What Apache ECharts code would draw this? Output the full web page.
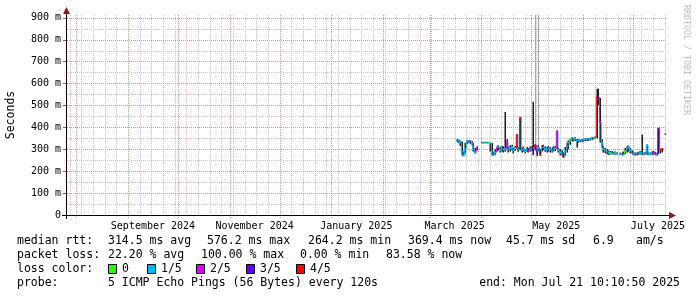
<!DOCTYPE html>
<html><head><meta charset="utf-8">
<script src="https://cdn.jsdelivr.net/npm/echarts@6/dist/echarts.min.js"></script>
<style>html,body{margin:0;padding:0;background:#fff}#c{width:697px;height:297px}</style>
</head><body><div id="c"></div>
<script>
// ---------- data ----------
const rangeStart = Date.UTC(2024, 6, 26, 10, 10, 50);
const rangeEnd = Date.UTC(2025, 6, 21, 10, 10, 50);
const firstSample = Date.UTC(2025, 2, 17);   // one sample per day from here
const monthStarts = ['2024-08-01','2024-09-01','2024-10-01','2024-11-01','2024-12-01','2025-01-01','2025-02-01','2025-03-01','2025-04-01','2025-05-01','2025-06-01','2025-07-01'];
const monthLabelDates = ['2024-09-16','2024-11-16','2025-01-16','2025-03-16','2025-05-16','2025-07-16'];
const firstSunday = '2024-07-28';
const yMax = 912;
const yMajorTicks = [100,200,300,400,500,600,700,800,900];
const yMinorTicks = [50,150,250,350,450,550,650,750,850];
const lossLabels = ['0','1/5','2/5','3/5','4/5'];
const lossColors = ['#26ff00','#00b8ff','#dd00ff','#5e00ff','#ff0000'];

// median rtt (ms), smoke low/high (ms), loss level (x/5), pale smoke top (ms)
const medianMs = [342,340,335,290,272,300,335,338,336,330,300,285,308,null,null,330,330,330,330,330,328,290,275,285,305,310,295,305,298,300,335,300,305,310,295,305,365,300,443,295,302,290,300,292,300,305,305,318,285,305,275,305,310,300,295,305,300,292,300,305,382,295,285,280,265,290,310,330,340,350,345,348,340,338,340,340,342,345,345,345,348,350,352,355,539,534,422,330,300,295,290,285,282,285,280,282,280,null,278,278,276,290,300,310,295,285,280,276,278,280,285,280,278,280,318,280,278,282,285,280,276,394,295,300,null,null];
const smokeLoMs = [335,330,315,272,268,280,325,330,325,318,290,280,295,null,null,328,328,328,328,328,290,272,270,275,290,295,285,290,285,288,300,285,290,295,282,292,300,288,295,285,290,282,288,285,290,292,272,295,268,292,270,290,295,288,285,290,285,285,290,292,300,285,272,270,262,270,285,300,320,338,335,338,308,330,332,332,335,338,338,338,340,342,345,348,350,500,330,305,285,282,278,275,275,278,275,276,275,null,274,272,272,278,285,290,282,278,274,270,272,274,276,274,272,274,276,274,272,275,276,272,270,278,280,285,null,366];
const smokeHiMs = [345,344,340,335,290,330,340,342,340,338,330,305,312,null,null,333,333,333,333,333,330,328,290,300,312,318,310,315,312,470,345,312,318,320,305,315,368,310,445,305,312,300,310,305,312,315,516,322,300,318,300,318,320,312,310,315,310,305,312,315,384,305,300,295,285,310,330,340,348,355,352,355,345,345,345,346,348,350,350,350,352,354,356,358,576,576,534,345,315,305,300,295,292,292,288,290,286,null,285,284,290,305,312,318,305,295,290,285,285,288,292,367,285,288,321,288,285,290,292,288,285,396,300,305,null,372];
const lossLevel = [1,1,1,1,1,1,1,1,2,1,1,1,2,null,null,1,1,1,1,0,1,1,1,1,2,1,1,1,1,1,2,1,1,1,1,1,4,1,4,1,1,1,1,2,1,2,1,4,3,1,4,1,1,1,1,1,1,1,1,1,2,1,1,1,4,1,1,1,0,1,1,1,1,1,1,1,1,1,1,1,1,1,0,1,4,3,2,1,1,1,1,1,0,1,1,1,1,null,1,1,1,0,1,1,1,1,1,1,2,1,1,1,1,1,1,1,1,1,2,2,1,3,4,4,null,null];
const paleHiMs = {47: 915, 49: 915};

// legend texts
const rttLine = [['median rtt:',17],['314.5 ms avg',108],['576.2 ms max',207],['264.2 ms min',308],['369.4 ms now',408],['45.7 ms sd',506],['6.9',593],['am/s',636]];
const lossLine = [['packet loss:',17],['22.20 % avg',108],['100.00 % max',201],['0.00 % min',300],['83.58 % now',386]];
const probeText = '5 ICMP Echo Pings (56 Bytes) every 120s';
const endText = 'end: Mon Jul 21 10:10:50 2025';
const monthNames = ['January','February','March','April','May','June','July','August','September','October','November','December'];

// ---------- build ----------
const DAY = 86400000;
const toMs = s => { const p = s.split('-').map(Number); return Date.UTC(p[0], p[1]-1, p[2]); };
const monthTickMs = monthStarts.map(toMs);
const labelMs = monthLabelDates.map(toMs);
const sundays = [];
for (let t = toMs(firstSunday); t <= rangeEnd; t += 7*DAY) sundays.push(t);

const sampleData = medianMs.map((m, i) => [firstSample + i*DAY, m, smokeLoMs[i], smokeHiMs[i], lossLevel[i], paleHiMs[i] != null ? paleHiMs[i] : null]);
// grid line items: [value, kind]  kind 0 = week, 1 = month, 2 = minor y, 3 = major y
const gridItems = [].concat(
  sundays.map(v => [v, 0]), yMinorTicks.map(v => [v, 2]),
  monthTickMs.map(v => [v, 1]), yMajorTicks.map(v => [v, 3]));

const FONT = '"DejaVu Sans Mono", monospace';
const MAJOR = '#e88a8a', MINOR = '#c4c4c4';

function renderGrid(params, api) {
  const cs = params.coordSys;
  const v = api.value(0), k = api.value(1);
  const col = (k === 1 || k === 3) ? MAJOR : MINOR;
  let shape;
  if (k < 2) {
    const x = Math.round(api.coord([v, 0])[0]) + 0.5;
    shape = {x1: x, y1: cs.y, x2: x, y2: cs.y + cs.height + (k === 1 ? 3 : 0)};
  } else {
    const y = Math.round(api.coord([rangeStart, v])[1]) + 0.5;
    shape = {x1: cs.x, y1: y, x2: cs.x + cs.width, y2: y};
  }
  const els = [{type: 'line', shape: shape, style: {stroke: col, lineWidth: 1, lineDash: [1, 1]}}];
  if (k === 3) {
    els.push({type: 'line', shape: {x1: cs.x - 4, y1: shape.y1, x2: cs.x, y2: shape.y1}, style: {stroke: '#666', lineWidth: 1}});
  }
  return {type: 'group', children: els};
}

function renderSample(params, api) {
  const i = params.dataIndex;
  const t = api.value(0), med = api.value(1), lo = api.value(2), hi = api.value(3), loss = api.value(4), pale = api.value(5);
  const w = api.size([DAY, 0])[0];
  const x0 = api.coord([t, 0])[0];
  const xc = Math.floor(x0 + w/2);
  const ch = [];
  if (!isNaN(pale) && !isNaN(med)) {
    const y1 = api.coord([t, med])[1], y2 = api.coord([t, pale])[1];
    ch.push({type:'rect', shape:{x:xc, y:y2, width:1, height:y1-y2}, style:{fill:'#a8a8a8'}});
  }
  if (!isNaN(lo) && !isNaN(hi)) {
    const yl = api.coord([t, lo])[1], yh = api.coord([t, hi])[1];
    ch.push({type:'rect', shape:{x:xc-0.5, y:yh, width:1.5, height:Math.max(1, yl-yh)}, style:{fill:'#1c1c1c'}});
  }
  if (!isNaN(med) && !isNaN(loss)) {
    const ym = api.coord([t, med])[1];
    const col = lossColors[loss];
    const prev = i > 0 ? medianMs[i-1] : null;
    if (prev != null) {
      const yp = api.coord([t, prev])[1];
      ch.push({type:'line', shape:{x1:x0, y1:yp, x2:x0, y2:ym}, style:{stroke:col, lineWidth:1}});
    }
    ch.push({type:'line', shape:{x1:x0, y1:ym, x2:x0+w, y2:ym}, style:{stroke:col, lineWidth:2}});
  }
  return {type:'group', children: ch};
}

const graphics = [];
graphics.push({type:'line', z:100, shape:{x1:62, y1:215.5, x2:671, y2:215.5}, style:{stroke:'#000', lineWidth:1}});
graphics.push({type:'line', z:100, shape:{x1:66.5, y1:219, x2:66.5, y2:12}, style:{stroke:'#000', lineWidth:1}});
graphics.push({type:'polygon', z:101, shape:{points:[[669,212],[676,215.5],[669,219]]}, style:{fill:'#8b1a1a'}});
graphics.push({type:'polygon', z:101, shape:{points:[[63,14],[66.5,7],[70,14]]}, style:{fill:'#8b1a1a'}});
graphics.push({type:'text', x:686, y:5, rotation:-Math.PI/2, style:{text:'RRDTOOL / TOBI OETIKER', font:'8.3px ' + FONT, fill:'#bdbdbd', textAlign:'left', textVerticalAlign:'middle'}});
const lt = (txt, x, y, align) => graphics.push({type:'text', x:x, y:y, style:{text:txt, font:'11.5px ' + FONT, fill:'#000', textAlign:align||'left', textVerticalAlign:'middle'}});
rttLine.forEach(p => lt(p[0], p[1], 241));
lossLine.forEach(p => lt(p[0], p[1], 255.5));
lt('loss color:', 17, 269);
const boxX = [108, 147, 196, 246, 296];
lossLabels.forEach((l, k) => {
  graphics.push({type:'rect', shape:{x:boxX[k]+0.5, y:264.5, width:8, height:9}, style:{fill:lossColors[k], stroke:'#000', lineWidth:1}});
  lt(l, boxX[k]+14, 269);
});
lt('probe:', 17, 283.5);
lt(probeText, 108, 283.5);
lt(endText, 680, 283.5, 'right');

const chart = echarts.init(document.getElementById('c'), null, {renderer:'canvas'});
chart.setOption({
  animation: false,
  backgroundColor: '#fff',
  grid: {left: 67, right: 30, top: 15, bottom: 82, containLabel: false, outerBoundsMode: 'none'},
  xAxis: [{
    type: 'value', min: rangeStart, max: rangeEnd, position: 'bottom',
    axisLine: {show: false}, axisTick: {show: false}, splitLine: {show: false},
    axisLabel: {customValues: labelMs, margin: 6, fontFamily: FONT, fontSize: 10, color: '#000',
      formatter: v => { const d = new Date(v); return monthNames[d.getUTCMonth()] + ' ' + d.getUTCFullYear(); }}
  }],
  yAxis: [{
    type: 'value', min: 0, max: yMax, interval: 100, position: 'left',
    name: 'Seconds', nameLocation: 'middle', nameGap: 50,
    nameTextStyle: {fontFamily: FONT, fontSize: 11.5, color: '#000'},
    axisLine: {show: false}, axisTick: {show: false}, splitLine: {show: false},
    axisLabel: {margin: 6, fontFamily: FONT, fontSize: 10, color: '#000', showMaxLabel: false,
      formatter: v => (v % 100 !== 0) ? '' : (v === 0 ? '0' : v + ' m')}
  }],
  series: [{
    type: 'custom', clip: false, z: 1, silent: true,
    renderItem: renderGrid,
    encode: {x: 0},
    data: gridItems
  }, {
    type: 'custom', clip: true, z: 2,
    renderItem: renderSample,
    encode: {x: 0, y: 1},
    data: sampleData
  }],
  graphic: graphics
});
</script></body></html>
